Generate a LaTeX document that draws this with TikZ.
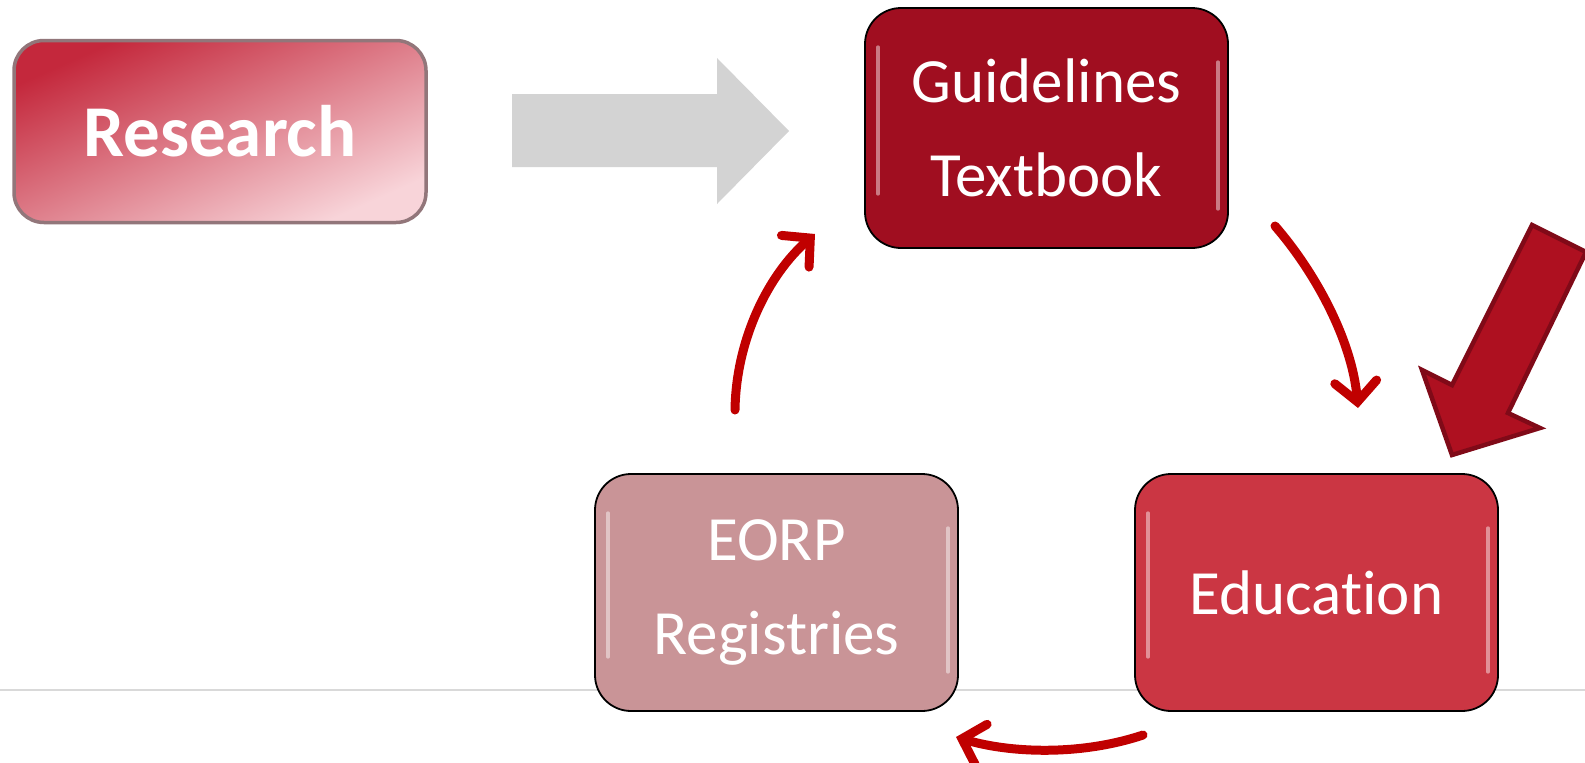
\documentclass[tikz,border=0pt]{standalone}
\usepackage{fontspec}
\setmainfont{Carlito}[Ligatures={NoCommon}]
\usetikzlibrary{arrows.meta,calc}
\definecolor{glred}{RGB}{160,14,32}
\definecolor{edred}{RGB}{203,54,67}
\definecolor{eorp}{RGB}{201,148,151}
\definecolor{resdark}{RGB}{196,40,60}
\definecolor{resmid}{RGB}{220,118,130}
\definecolor{reslight}{RGB}{248,212,217}
\definecolor{resedge}{RGB}{146,118,122}
\definecolor{bigfill}{RGB}{174,16,32}
\definecolor{bigedge}{RGB}{128,10,24}
\definecolor{cyc}{RGB}{192,0,0}
\definecolor{grayarrow}{RGB}{211,211,211}
\definecolor{hline}{RGB}{217,217,217}
\newcommand{\glossy}[1]{%
  \draw[white,opacity=.45,line width=3.5pt,line cap=round]
    ($(#1.north west)+(14,40)$) -- ($(#1.south west)+(14,-55)$);
  \draw[white,opacity=.45,line width=3.5pt,line cap=round]
    ($(#1.north east)+(-11,55)$) -- ($(#1.south east)+(-11,-40)$);
}
\begin{document}
\begin{tikzpicture}[x=1pt,y=-1pt,
  cbox/.style={rectangle,rounded corners=36pt,minimum width=363pt,minimum height=237pt,
    inner sep=0pt,text=white,align=center,draw=black,line width=1.8pt,
    font=\fontsize{63}{94}\selectfont},
  cycarrow/.style={draw=cyc,line width=9pt,line cap=round,
    -{Straight Barb[length=20pt,width=42pt,line cap=round]}}]
\useasboundingbox (0,0) rectangle (1585,763);
\clip (0,0) rectangle (1585,763);
\fill[white] (0,0) rectangle (1585,763);
% gray horizontal line
\coordinate (hl1) at (0,690);
\coordinate (hl2) at (1585,690);
\draw[hline,line width=1.5pt] (hl1) -- (hl2);
% Research
\node[rectangle,rounded corners=30pt,minimum width=412pt,minimum height=182pt,inner sep=0pt,
  top color=resdark,middle color=resmid,bottom color=reslight,shading angle=24,draw=resedge,line width=3.5pt,
  text=white,font=\fontsize{73}{80}\selectfont\bfseries] (res) at (220,131.5) {Research};
% Gray arrow
\fill[grayarrow] (512,94) -- (717,94) -- (717,58) -- (789,131) -- (717,204) -- (717,167) -- (512,167) -- cycle;
% boxes
\node[cbox,fill=glred,minimum height=240pt] (gl) at (1046.5,128) {Guidelines\\Textbook};
\node[cbox,fill=eorp] (eo) at (776.5,592.5) {EORP\\Registries};
\node[cbox,fill=edred] (ed) at (1316.5,592.5) {Education};
\glossy{gl}
\glossy{eo}
\glossy{ed}
% big red arrow
\draw[bigedge,fill=bigfill,line width=4.5pt,line join=miter]
  (1532,225) -- (1586,252) -- (1508,413) -- (1540,428) -- (1452,455) -- (1422,370) -- (1452,385) -- cycle;
% cycle arrows
\coordinate (a1s) at (1275,226);
\coordinate (a1e) at (1358,408);
\coordinate (a2s) at (1143,735);
\coordinate (a2e) at (956,737);
\coordinate (a3s) at (735,410);
\coordinate (a3e) at (815,234);
\draw[cycarrow] (a1s) .. controls (1315,272) and (1352,340) .. (a1e);
\draw[cycarrow] (a2s) .. controls (1080,756) and (1010,753) .. (a2e);
\draw[cycarrow] (a3s) .. controls (736,340) and (768,275) .. (a3e);
\end{tikzpicture}
\end{document}
